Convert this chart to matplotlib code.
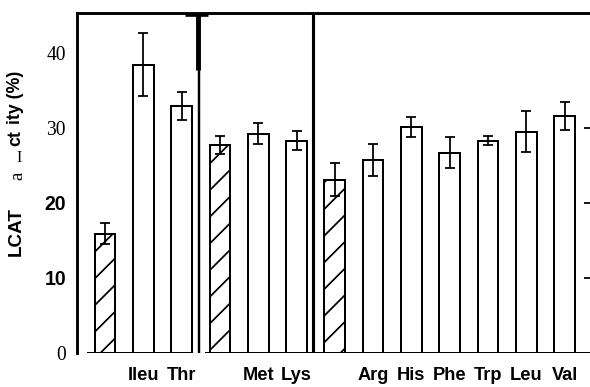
import matplotlib
matplotlib.use('Agg')
import matplotlib.pyplot as plt

# LCAT activity (%) per amino acid, hatched bars are the controls
labels = ['', 'Ileu', 'Thr', '', 'Met', 'Lys', '', 'Arg', 'His', 'Phe', 'Trp', 'Leu', 'Val']
values = [15.9, 38.4, 32.9, 27.7, 29.2, 28.3, 23.1, 25.7, 30.1, 26.7, 28.3, 29.5, 31.6]
errors = [1.4, 4.2, 1.9, 1.25, 1.4, 1.25, 2.2, 2.1, 1.35, 2.1, 0.65, 2.7, 1.9]
control = [True, False, False, True, False, False, True, False, False, False, False, False, False]
yticks = [0, 10, 20, 30, 40]

W, H, DPI = 590, 387, 160
plt.rcParams['hatch.linewidth'] = 0.8

fig = plt.figure(figsize=(W / DPI, H / DPI), dpi=DPI)
ax = fig.add_axes([77 / W, (H - 353) / H, 1 - 77 / W, (353 - 13) / H])

x = list(range(len(values)))
bars = ax.bar(x, values, width=0.54, color='white', edgecolor='black', linewidth=0.9, zorder=2)
for patch, c in zip(bars, control):
    if c:
        patch.set_hatch('//')
ax.errorbar(x, values, yerr=errors, fmt='none', ecolor='black',
            elinewidth=0.8, capsize=2.2, capthick=0.8, zorder=3)

ax.set_xlim(-0.731, 12.663)
ax.set_ylim(0, 45.3)

# panel base lines and separators of the pasted-up figure
ax.hlines(0, -0.47, 1.96, color='black', lw=0.9, zorder=4)
ax.hlines(0, 2.61, 12.66, color='black', lw=0.9, zorder=4)
ax.vlines(2.45, 0, 45.3, color='black', lw=1.1, zorder=4)
ax.vlines(2.44, 37.7, 45.3, color='black', lw=2.2, zorder=4)
ax.hlines(45.0, 2.09, 2.69, color='black', lw=1.2, zorder=4)
ax.vlines(5.43, 0, 45.3, color='black', lw=1.4, zorder=4)

for side in ['right', 'bottom']:
    ax.spines[side].set_visible(False)
ax.spines['left'].set_linewidth(1.3)
ax.spines['top'].set_linewidth(1.3)

ax.set_yticks(yticks)
ax.set_yticklabels([str(t) for t in yticks])
ax.tick_params(axis='y', length=0, pad=5)
fams = ['Liberation Serif', 'Liberation Sans', 'Liberation Sans', 'Liberation Serif', 'Liberation Serif']
weights = ['normal', 'bold', 'bold', 'normal', 'normal']
for lbl, fam, wt in zip(ax.get_yticklabels(), fams, weights):
    lbl.set_family(fam)
    lbl.set_weight(wt)
    lbl.set_fontsize(8.8)

ax.set_xticks(x)
ax.set_xticklabels(labels, fontsize=8.2, fontweight='bold', family='Liberation Sans')
ax.tick_params(axis='x', length=0, pad=6.5)

# small ticks at the right edge
ax2 = ax.twinx()
ax2.set_ylim(0, 45.3)
ax2.set_yticks([10, 20, 30])
ax2.set_yticklabels([])
ax2.tick_params(axis='y', direction='in', length=2.5, width=0.8)
for side in ['left', 'right', 'top', 'bottom']:
    ax2.spines[side].set_visible(False)

# y label, scanned in several pieces
def ftext(px, py, s, **kw):
    fig.text(px / W, 1 - py / H, s, rotation=90, ha='center', va='center', **kw)

ftext(16, 232, 'LCAT', fontsize=8.5, fontweight='bold', family='Liberation Sans')
ftext(18, 176, 'a', fontsize=8.5, family='Liberation Serif')
ftext(16, 138, 'ct', fontsize=8, fontweight='bold', family='Liberation Sans')
fig.text(19 / W, 1 - 158 / H, 'I', ha='center', va='center', fontsize=7, family='Liberation Serif')
ftext(16, 97, 'ity (%)', fontsize=8, fontweight='bold', family='Liberation Sans')

fig.savefig('out.png', dpi=DPI)
